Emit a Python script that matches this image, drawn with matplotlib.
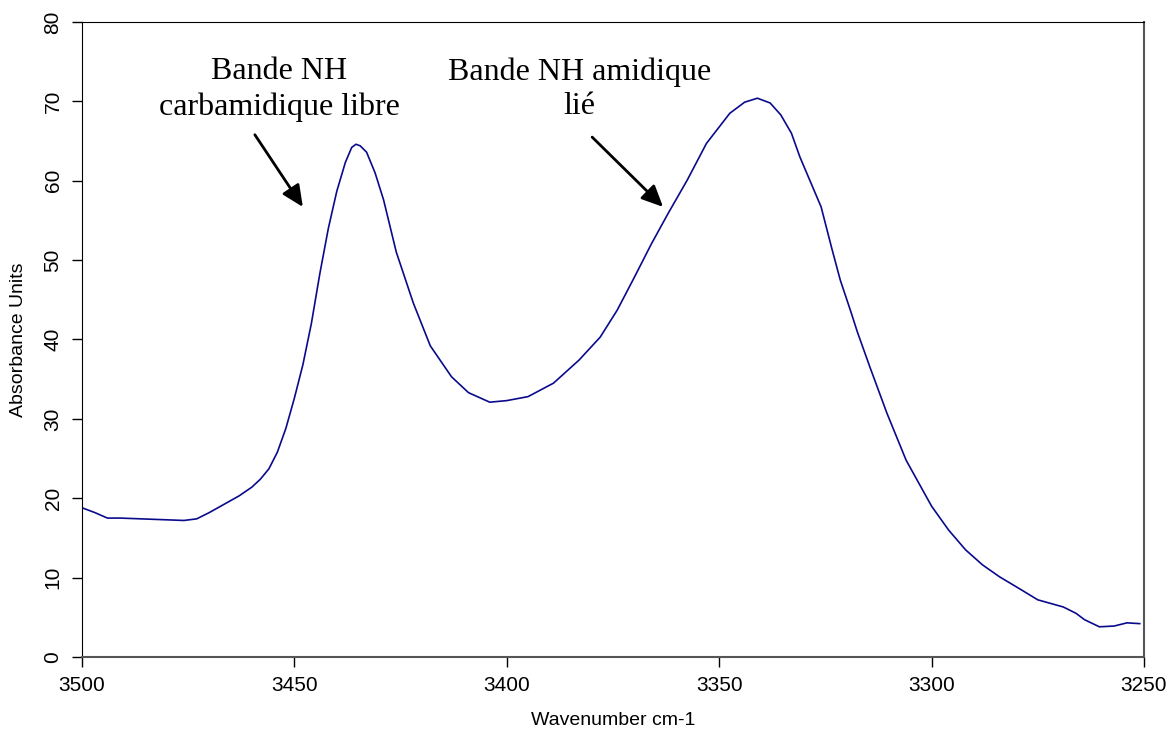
import numpy as np
import matplotlib
matplotlib.use('Agg')
import matplotlib.pyplot as plt

# IR spectrum (wavenumber cm-1, absorbance)
wavenumber = [3500, 3497, 3494, 3491, 3486, 3481, 3476, 3473, 3470, 3467,
              3463, 3460, 3458, 3456, 3454, 3452, 3450, 3448, 3446, 3444,
              3442, 3440, 3438, 3436.5, 3435.5, 3434.5, 3433, 3431, 3429, 3426,
              3422, 3418, 3413, 3409, 3404, 3400, 3395, 3389, 3383, 3378,
              3374, 3370, 3366, 3362, 3357.5, 3353, 3347.5, 3344, 3341, 3338,
              3335.5, 3333, 3331, 3326, 3323.5, 3321.5, 3319, 3317.5, 3314.5, 3310.5,
              3306, 3300, 3296, 3292, 3288, 3284, 3279, 3275, 3269, 3266,
              3264, 3260.5, 3257, 3254, 3251]
absorbance = [18.8, 18.2, 17.5, 17.5, 17.4, 17.3, 17.2, 17.4, 18.2, 19.1,
              20.3, 21.4, 22.4, 23.7, 25.8, 28.8, 32.6, 36.8, 42.0, 48.3,
              54.0, 58.7, 62.3, 64.2, 64.6, 64.4, 63.6, 61.0, 57.6, 51.0,
              44.6, 39.2, 35.3, 33.3, 32.1, 32.3, 32.8, 34.5, 37.4, 40.3,
              43.7, 47.8, 52.0, 55.9, 60.1, 64.7, 68.5, 69.9, 70.4, 69.8,
              68.3, 66.0, 63.0, 56.7, 51.5, 47.5, 43.5, 41.0, 36.5, 30.7,
              24.8, 19.0, 16.0, 13.5, 11.6, 10.1, 8.5, 7.2, 6.3, 5.5,
              4.7, 3.8, 3.9, 4.3, 4.2]

# annotations: text, text position, arrow start, arrow tip
labels = ['Bande NH\ncarbamidique libre', 'Bande NH amidique\nlié']
label_pos = [(3453.6, 71.5), (3382.8, 71.5)]
arrow_start = [(3459.3, 65.8), (3379.9, 65.5)]
arrow_tip = [(3448.0, 56.7), (3363.2, 56.7)]

fig = plt.figure(figsize=(11.69, 7.29), dpi=100)
ax = fig.add_axes([0.0701, 0.0988, 0.9085, 0.871])

ax.plot(wavenumber, absorbance, color='#0a0a8c', lw=1.2)

ax.set_xlim(3500, 3250)
ax.set_ylim(0, 80)
ax.set_xticks([3500, 3450, 3400, 3350, 3300, 3250])
ax.set_yticks(np.arange(0, 81, 10))

sans = ['Liberation Sans', 'DejaVu Sans']
for lab in ax.get_xticklabels():
    lab.set_fontfamily(sans)
    lab.set_fontsize(15)
for lab in ax.get_yticklabels():
    lab.set_fontfamily(sans)
    lab.set_fontsize(15)
    lab.set_rotation(90)
    lab.set_va('center')
ax.tick_params(direction='out', length=7, width=1, pad=7)

ax.set_xlabel('Wavenumber cm-1', family=sans, fontsize=14, labelpad=12)
ax.set_ylabel('Absorbance Units', family=sans, fontsize=14, labelpad=12)

ax.spines['left'].set_color('black')
ax.spines['top'].set_color('black')
ax.spines['right'].set_color('#555555')
ax.spines['right'].set_linewidth(1.5)
ax.spines['bottom'].set_color('#555555')
ax.spines['bottom'].set_linewidth(1.5)

for txt, pos, a0, a1 in zip(labels, label_pos, arrow_start, arrow_tip):
    ax.text(pos[0], pos[1], txt, ha='center', va='center', multialignment='center',
            family=['Liberation Serif', 'DejaVu Serif'], fontsize=23, linespacing=1.25)
    ax.annotate('', xy=a1, xytext=a0,
                arrowprops=dict(arrowstyle='-|>,head_length=1.3,head_width=0.6',
                                color='black', lw=2, shrinkA=0, shrinkB=0))

fig.savefig('out.png', dpi=100)
